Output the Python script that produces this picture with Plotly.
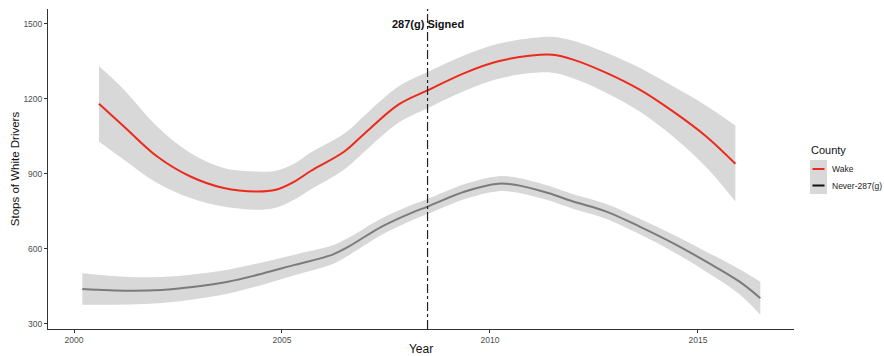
import plotly.graph_objects as go

# Smoothed stop counts with confidence ribbons
wake_year = [2000.6, 2001.2, 2002.0, 2002.8, 2003.6, 2004.4, 2004.85, 2005.3, 2005.7,
             2006.5, 2007.0, 2007.8, 2008.5, 2009.4, 2010.2, 2011.0, 2011.5, 2012.0,
             2012.8, 2013.6, 2014.4, 2015.2, 2015.9]
wake_fit = [1180, 1089, 969, 889, 843, 829, 836, 869, 912,
            989, 1063, 1176, 1233, 1303, 1349, 1372, 1375, 1356,
            1303, 1236, 1149, 1049, 940]
wake_lo = [1029, 956, 863, 803, 769, 756, 764, 797, 838,
           917, 991, 1104, 1162, 1232, 1279, 1302, 1303, 1281,
           1223, 1149, 1049, 926, 789]
wake_hi = [1330, 1236, 1089, 983, 923, 909, 912, 941, 986,
           1061, 1135, 1248, 1306, 1374, 1419, 1442, 1447, 1431,
           1383, 1323, 1249, 1172, 1093]

never_year = [2000.2, 2001.3, 2002.1, 2002.9, 2003.7, 2004.5, 2005.3, 2006.2, 2006.6,
              2007.4, 2008.1, 2008.5, 2009.4, 2010.2, 2010.6, 2011.4, 2012.0, 2012.8,
              2013.6, 2014.4, 2015.2, 2016.0, 2016.5]
never_fit = [440, 433, 436, 449, 469, 500, 536, 576, 609,
             689, 743, 769, 829, 860, 856, 823, 789, 749,
             689, 623, 549, 469, 403]
never_lo = [377, 378, 384, 399, 421, 455, 495, 539, 574,
            656, 712, 739, 799, 830, 826, 794, 760, 719,
            658, 589, 509, 419, 337]
never_hi = [503, 488, 488, 499, 517, 545, 577, 613, 644,
            722, 774, 799, 859, 890, 886, 852, 818, 779,
            720, 657, 589, 519, 469]

signed_year = 2008.5
x_ticks = [2000, 2005, 2010, 2015]
y_ticks = [300, 600, 900, 1200, 1500]

RIBBON = "rgb(216,216,216)"
RED = "#EC2A1C"
GREY = "#7b7b7b"

fig = go.Figure()

for yr, lo, hi, fit, col in [
    (wake_year, wake_lo, wake_hi, wake_fit, RED),
    (never_year, never_lo, never_hi, never_fit, GREY),
]:
    fig.add_trace(go.Scatter(x=yr, y=lo, mode="lines", line=dict(width=0, shape="spline"),
                             showlegend=False, hoverinfo="skip"))
    fig.add_trace(go.Scatter(x=yr, y=hi, mode="lines", line=dict(width=0, shape="spline"),
                             fill="tonexty", fillcolor=RIBBON, showlegend=False, hoverinfo="skip"))
    fig.add_trace(go.Scatter(x=yr, y=fit, mode="lines",
                             line=dict(color=col, width=2, shape="spline"), showlegend=False))

# Plot area in pixels, used for the hand-drawn legend
L, R, T, B = 48, 794, 9, 329
def px(xp):
    return (xp - L) / (R - L)
def py(yp):
    return (B - yp) / (B - T)

shapes = [
    dict(type="line", xref="x", yref="paper", x0=signed_year, x1=signed_year, y0=0, y1=1,
         line=dict(color="#222", width=1.2, dash="dashdot"), layer="above"),
    # legend key background
    dict(type="rect", xref="paper", yref="paper", x0=px(810), x1=px(827), y0=py(194), y1=py(160),
         fillcolor=RIBBON, line=dict(width=0)),
    dict(type="line", xref="paper", yref="paper", x0=px(812.5), x1=px(824.5), y0=py(169), y1=py(169),
         line=dict(color=RED, width=2)),
    dict(type="line", xref="paper", yref="paper", x0=px(812.5), x1=px(824.5), y0=py(185.5), y1=py(185.5),
         line=dict(color="#111", width=2)),
]

annotations = [
    dict(x=signed_year, y=1500, xref="x", yref="y", text="<b>287(g) Signed</b>", showarrow=False,
         font=dict(size=11, color="#111"), xanchor="center", yanchor="middle"),
    dict(x=px(809), y=py(150), xref="paper", yref="paper", text="County", showarrow=False,
         font=dict(size=11, color="#111"), xanchor="left", yanchor="middle"),
    dict(x=px(830), y=py(169), xref="paper", yref="paper", text="Wake", showarrow=False,
         font=dict(size=8.5, color="#222"), xanchor="left", yanchor="middle"),
    dict(x=px(830), y=py(185.5), xref="paper", yref="paper", text="Never-287(g)", showarrow=False,
         font=dict(size=8.5, color="#222"), xanchor="left", yanchor="middle"),
]

fig.update_layout(
    width=884, height=356,
    margin=dict(l=L, r=884 - R, t=T, b=356 - B),
    paper_bgcolor="white", plot_bgcolor="white",
    font=dict(family="Liberation Sans, Arial, sans-serif", color="#222"),
    shapes=shapes, annotations=annotations, showlegend=False,
    xaxis=dict(range=[1999.375, 2017.31], tickvals=x_ticks, showgrid=False, zeroline=False,
               showline=True, linecolor="#333", linewidth=1, ticks="outside", ticklen=3,
               tickcolor="#333", tickfont=dict(size=8.5, color="#4d4d4d"),
               title=dict(text="Year", font=dict(size=12, color="#111"), standoff=4),
               automargin=False),
    yaxis=dict(range=[280, 1558], tickvals=y_ticks, showgrid=False, zeroline=False,
               showline=True, linecolor="#333", linewidth=1, ticks="outside", ticklen=3,
               tickcolor="#333", tickfont=dict(size=8.5, color="#4d4d4d"),
               title=dict(text="Stops of White Drivers", font=dict(size=11.5, color="#111"), standoff=1),
               automargin=False),
)

fig.write_html("out.html")
